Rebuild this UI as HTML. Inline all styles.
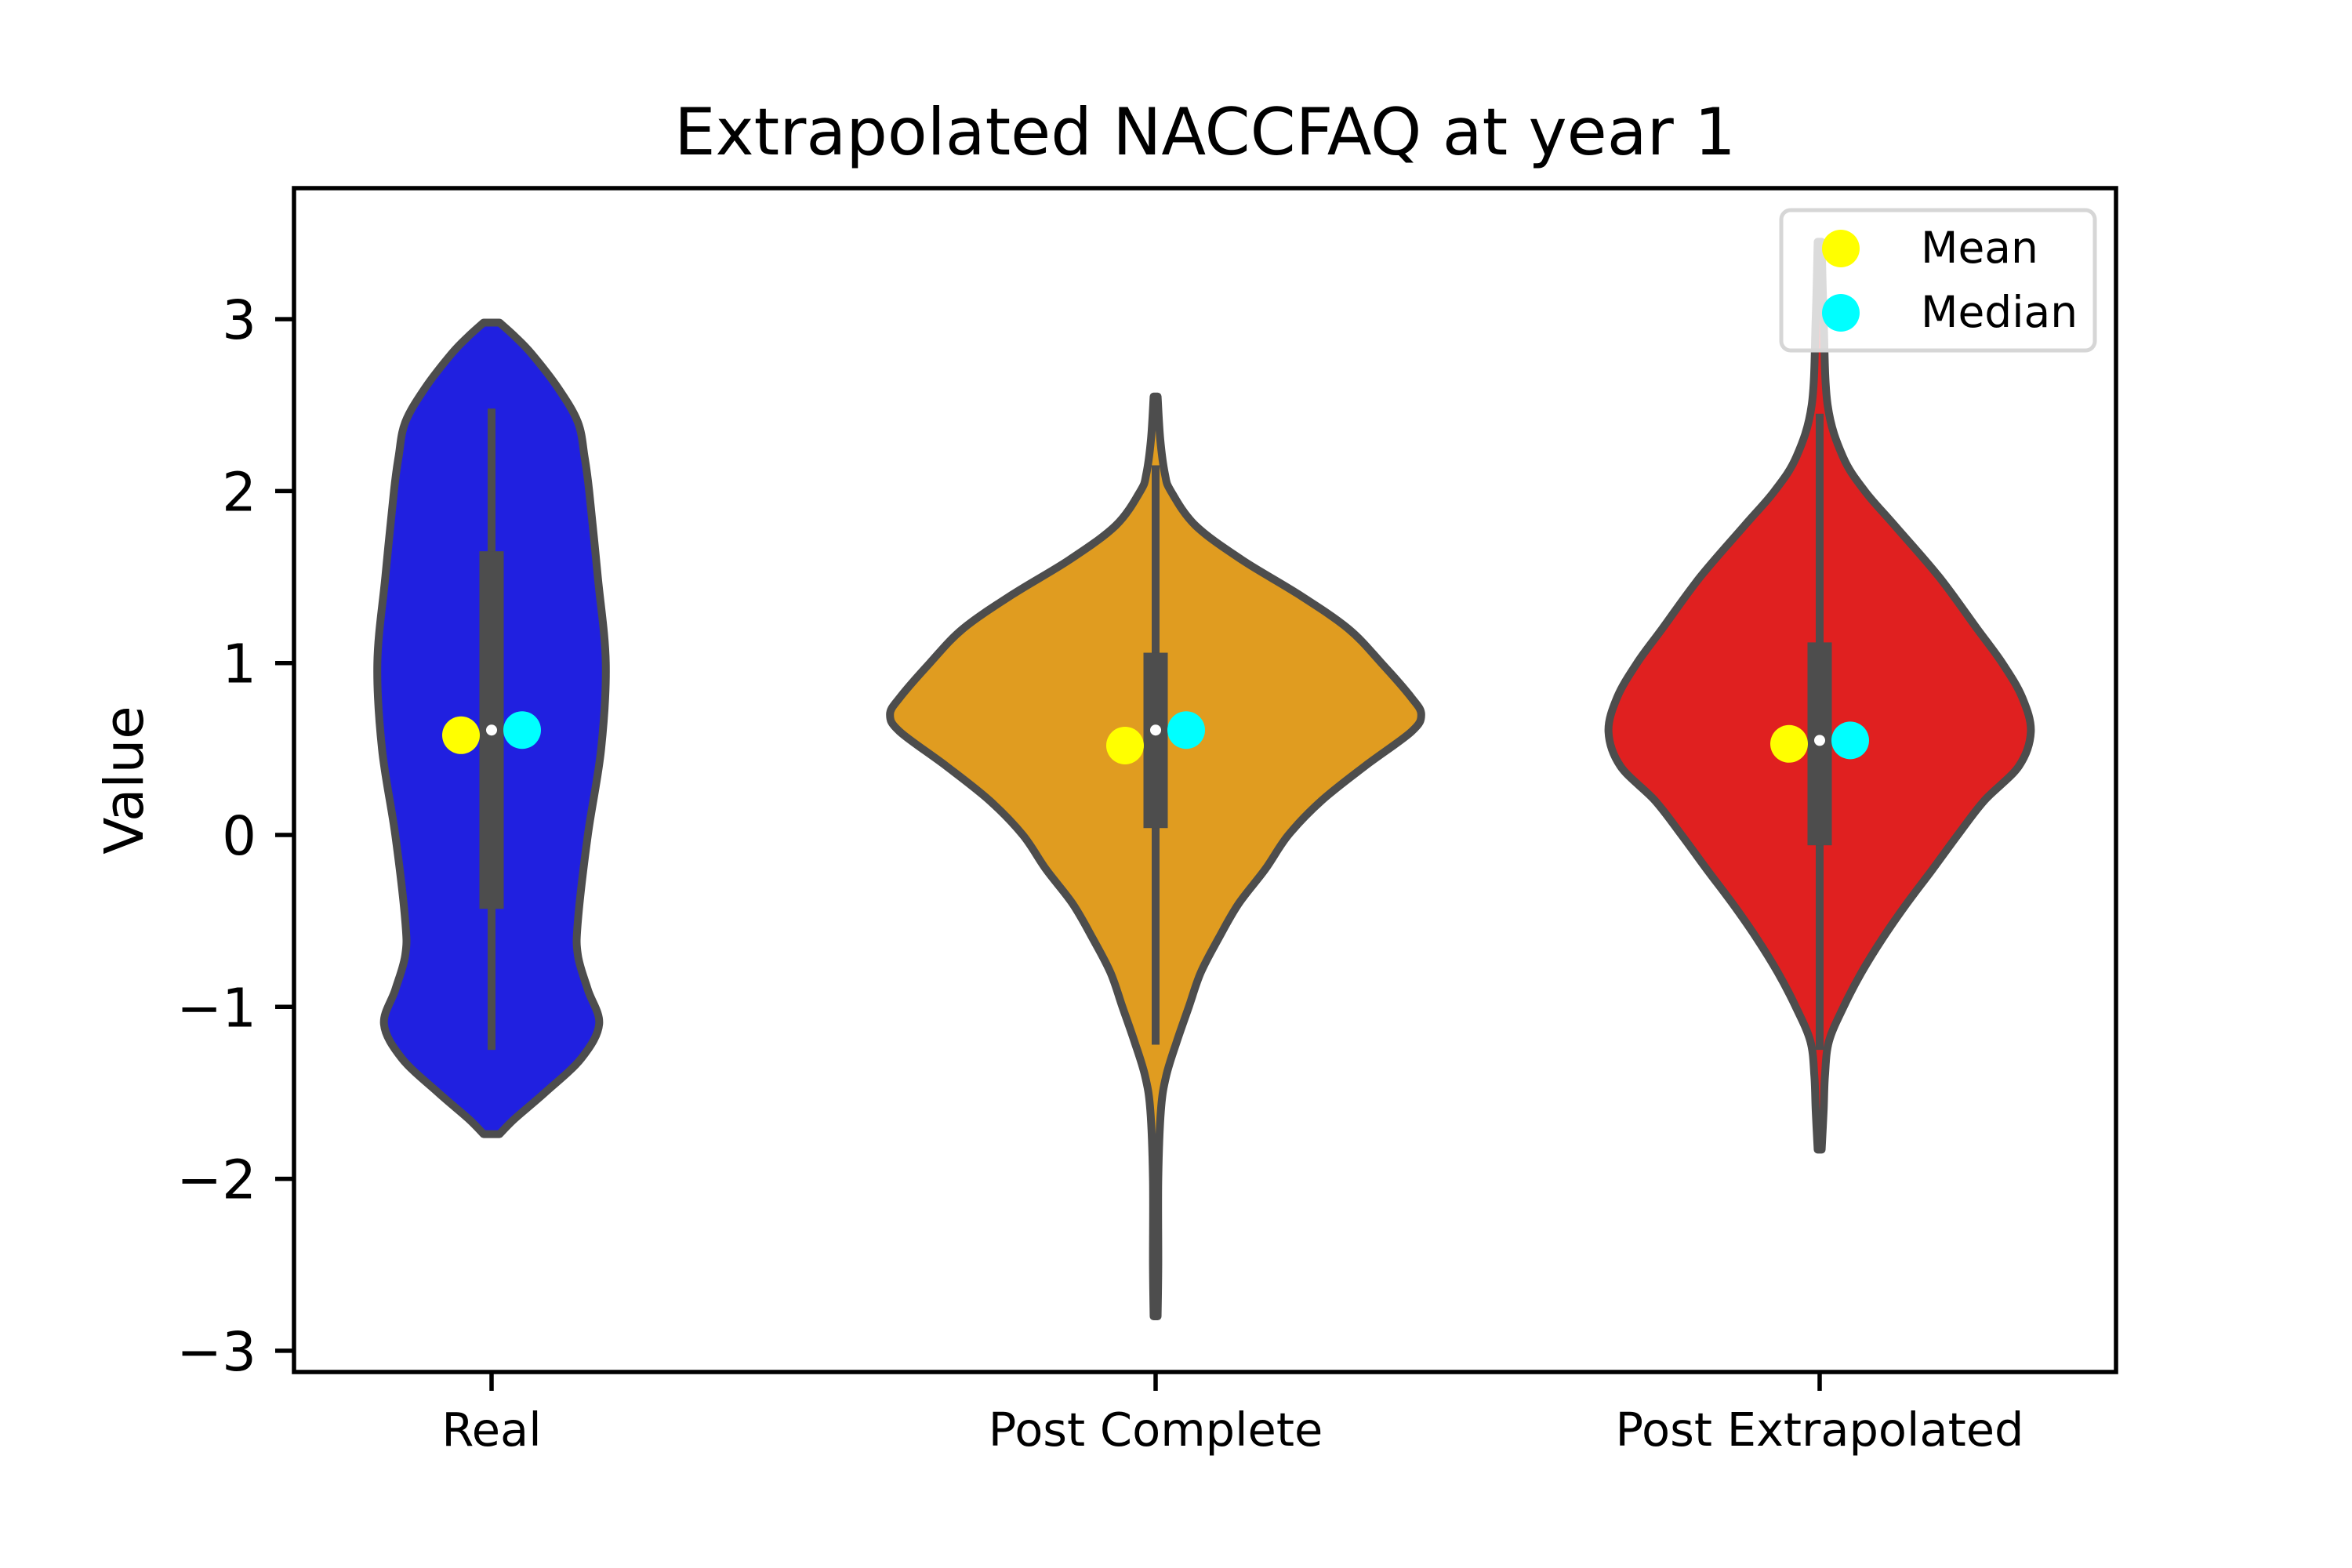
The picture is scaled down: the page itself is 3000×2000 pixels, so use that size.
<!DOCTYPE html>
<html><head><meta charset="utf-8"><style>
html,body{margin:0;padding:0;background:#fff;}
svg{display:block;font-family:"DejaVu Sans","Liberation Sans",sans-serif;}
</style></head><body>
<svg id="chart" width="3000" height="2000" viewBox="0 0 3000 2000">
<rect x="0" y="0" width="3000" height="2000" fill="#fff"/>
<g id="plot"></g>
<text x="1537" y="197" font-size="83" text-anchor="middle">Extrapolated NACCFAQ at year 1</text>
<text x="0" y="0" font-size="69" text-anchor="middle" transform="translate(182,995) rotate(-90)">Value</text>
<g id="legend">
<rect x="2272" y="268" width="400" height="179" rx="12" fill="#fff" fill-opacity="0.8" stroke="#d6d6d6" stroke-width="5"/>
<circle cx="2348" cy="317" r="24" fill="#ffff00"/>
<text x="2450" y="335" font-size="55">Mean</text>
<circle cx="2348" cy="399" r="24" fill="#00ffff"/>
<text x="2450" y="417" font-size="55">Median</text>
</g>
</svg>
<script>
const categories = ["Real", "Post Complete", "Post Extrapolated"];
const violinColors = ["#2020e0", "#e09c20", "#e02020"];
const yTicks = [-3, -2, -1, 0, 1, 2, 3];
const yTickLabels = ["\u22123", "\u22122", "\u22121", "0", "1", "2", "3"];
// density profiles: y values and half-widths (category units)
const realY = [2.98, 2.9, 2.8, 2.6, 2.4, 2.2, 2.0, 1.5, 1.0, 0.5, 0.0, -0.5, -0.7, -0.9, -1.1, -1.3, -1.5, -1.65, -1.74];
const realW = [0.012, 0.035, 0.06, 0.1, 0.13, 0.14, 0.147, 0.16, 0.172, 0.165, 0.145, 0.13, 0.13, 0.145, 0.162, 0.135, 0.08, 0.035, 0.012];
const compY = [2.55, 2.3, 2.1, 2.0, 1.8, 1.6, 1.4, 1.2, 1.0, 0.8, 0.7, 0.6, 0.4, 0.2, 0.0, -0.2, -0.4, -0.6, -0.8, -1.0, -1.2, -1.4, -1.6, -2.0, -2.5, -2.8];
const compW = [0.003, 0.007, 0.014, 0.023, 0.06, 0.13, 0.215, 0.29, 0.34, 0.385, 0.4, 0.385, 0.315, 0.25, 0.2, 0.165, 0.125, 0.095, 0.068, 0.05, 0.032, 0.016, 0.008, 0.004, 0.004, 0.003];
const extY = [3.45, 3.0, 2.5, 2.2, 2.0, 1.8, 1.5, 1.2, 1.0, 0.8, 0.6, 0.4, 0.2, 0.0, -0.2, -0.4, -0.6, -0.8, -1.0, -1.2, -1.4, -1.6, -1.83];
const extW = [0.003, 0.006, 0.012, 0.035, 0.068, 0.113, 0.18, 0.237, 0.275, 0.305, 0.318, 0.3, 0.248, 0.208, 0.17, 0.131, 0.095, 0.063, 0.036, 0.014, 0.008, 0.006, 0.003];
const q1 = [-0.43, 0.04, -0.06];
const q3 = [1.65, 1.06, 1.12];
const whiskLo = [-1.25, -1.22, -1.25];
const whiskHi = [2.48, 2.15, 2.45];
const medians = [0.61, 0.61, 0.55];
const means = [0.58, 0.52, 0.53];

const profY = [realY, compY, extY];
const profW = [realW, compW, extW];

const L = 375, R = 2699, T = 240, B = 1750;
function yScale(v) { return 1065 - v * 219.3; }
function xScale(i) { return 627 + i * 847; }
function wScale(w) { return w * 847; }

const NS = "http://www.w3.org/2000/svg";
const plot = document.getElementById("plot");
function mk(tag, attrs) { const e = document.createElementNS(NS, tag); for (const k in attrs) e.setAttribute(k, attrs[k]); return e; }

function smoothPath(pts) {
  let d = "M" + pts[0][0] + "," + pts[0][1];
  for (let i = 0; i < pts.length - 1; i++) {
    const p0 = pts[Math.max(0, i - 1)], p1 = pts[i], p2 = pts[i + 1], p3 = pts[Math.min(pts.length - 1, i + 2)];
    const c1x = p1[0] + (p2[0] - p0[0]) / 6, c1y = p1[1] + (p2[1] - p0[1]) / 6;
    const c2x = p2[0] - (p3[0] - p1[0]) / 6, c2y = p2[1] - (p3[1] - p1[1]) / 6;
    d += " C" + c1x + "," + c1y + " " + c2x + "," + c2y + " " + p2[0] + "," + p2[1];
  }
  return d;
}

categories.forEach((c, i) => {
  const cx = xScale(i);
  const ys = profY[i], ws = profW[i];
  const right = ys.map((y, k) => [cx + wScale(ws[k]), yScale(y)]);
  const left = ys.map((y, k) => [cx - wScale(ws[k]), yScale(y)]).reverse();
  const d = smoothPath(right) + " L" + left[0][0] + "," + left[0][1] + smoothPath(left).replace(/^M[^C]*/, " ") + " Z";
  const v = mk("path", { d: d, fill: violinColors[i], stroke: "#4d4d4d", "stroke-width": 10, "stroke-linejoin": "round" });
  
  
  plot.appendChild(v);
  const wl = mk("line", { x1: cx, x2: cx, y1: yScale(whiskHi[i]), y2: yScale(whiskLo[i]), stroke: "#4d4d4d", "stroke-width": 10 });
  
  
  plot.appendChild(wl);
  const bx = mk("rect", { x: cx - 15.5, y: yScale(q3[i]), width: 31, height: yScale(q1[i]) - yScale(q3[i]), fill: "#4d4d4d" });
  
  
  plot.appendChild(bx);
  const md = mk("circle", { cx: cx, cy: yScale(medians[i]), r: 7, fill: "#fff" });
  
  
  plot.appendChild(md);
  const mn = mk("circle", { cx: cx - 39, cy: yScale(means[i]), r: 24, fill: "#ffff00" });
  
  
  plot.appendChild(mn);
  const me = mk("circle", { cx: cx + 39, cy: yScale(medians[i]), r: 24, fill: "#00ffff" });
  
  
  plot.appendChild(me);
  const tk = mk("line", { x1: cx, x2: cx, y1: B, y2: B + 24, stroke: "#000", "stroke-width": 5.5 });
  
  
  plot.appendChild(tk);
  const tl = mk("text", { x: cx, y: 1844, "font-size": 59, "text-anchor": "middle" });
  tl.textContent = c;
  
  
  plot.appendChild(tl);
});

yTicks.forEach((t, k) => {
  const y = yScale(t);
  const tk = mk("line", { x1: L - 24, x2: L, y1: y, y2: y, stroke: "#000", "stroke-width": 5.5 });
  
  
  plot.appendChild(tk);
  const tl = mk("text", { x: L - 48, y: y + 25, "font-size": 69, "text-anchor": "end" });
  tl.textContent = yTickLabels[k];
  
  
  plot.appendChild(tl);
});

const frame = mk("rect", { x: L, y: T, width: R - L, height: B - T, fill: "none", stroke: "#000", "stroke-width": 5.5 });


plot.appendChild(frame);
document.getElementById("chart").appendChild(document.getElementById("legend"));
</script>
</body></html>
